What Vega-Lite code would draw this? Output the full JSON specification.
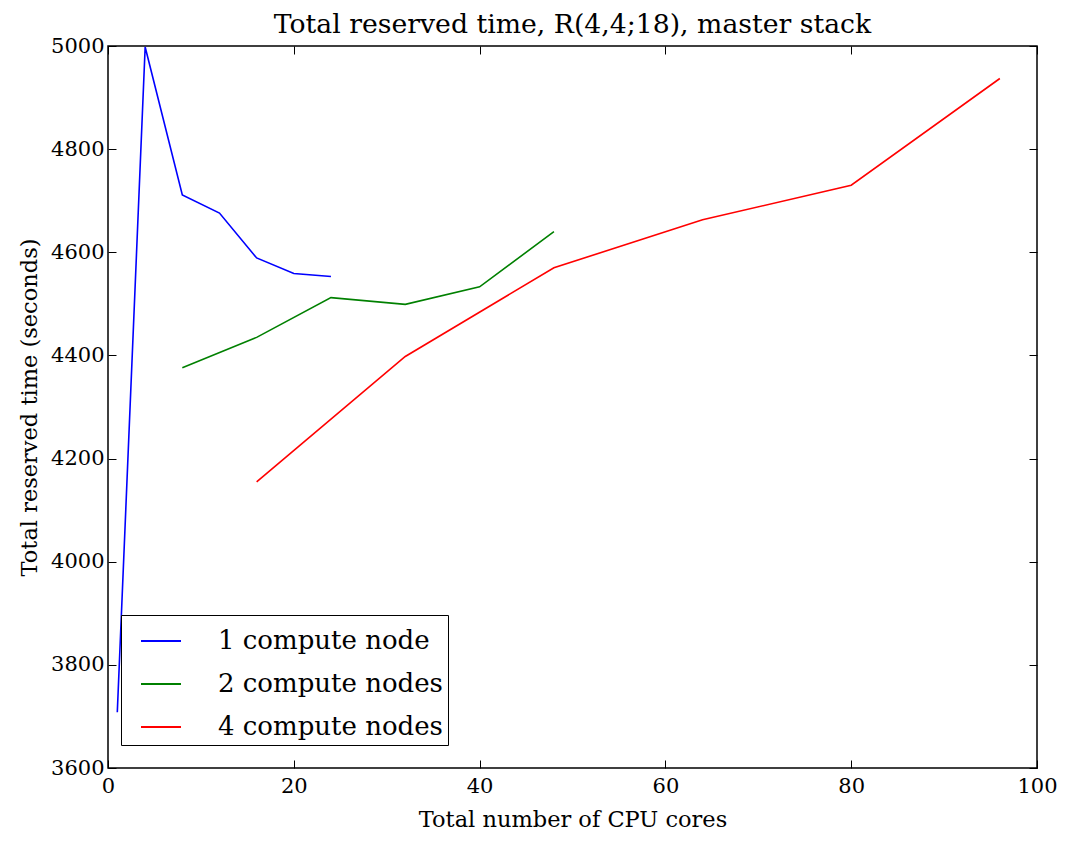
{
  "$schema": "https://vega.github.io/schema/vega-lite/v6.json",
  "width": 929,
  "height": 722,
  "autosize": {"type": "none"},
  "padding": {"left": 108, "top": 46, "right": 33, "bottom": 80},
  "background": "white",
  "title": {"text": "Total reserved time, R(4,4;18), master stack", "font": "DejaVu Serif", "fontSize": 26.7, "fontWeight": "normal", "color": "black", "offset": -4},
  "config": {
    "view": {"stroke": "black", "strokeWidth": 1.5},
    "axis": {"domain": false, "grid": false, "tickColor": "black", "tickSize": -8, "tickWidth": 1, "labelFlush": false, "labelFont": "DejaVu Serif", "labelFontSize": 21, "labelColor": "black", "titleFont": "DejaVu Serif", "titleFontSize": 22.5, "titleFontWeight": "normal", "titleColor": "black"}
  },
  "data": {"values": [
    {"cores": 1, "time": 3708, "series": "1 compute node"},
    {"cores": 4, "time": 4998, "series": "1 compute node"},
    {"cores": 8, "time": 4711, "series": "1 compute node"},
    {"cores": 12, "time": 4676, "series": "1 compute node"},
    {"cores": 16, "time": 4589, "series": "1 compute node"},
    {"cores": 20, "time": 4559, "series": "1 compute node"},
    {"cores": 24, "time": 4553, "series": "1 compute node"},
    {"cores": 8, "time": 4376, "series": "2 compute nodes"},
    {"cores": 16, "time": 4435, "series": "2 compute nodes"},
    {"cores": 24, "time": 4512, "series": "2 compute nodes"},
    {"cores": 32, "time": 4499, "series": "2 compute nodes"},
    {"cores": 40, "time": 4533, "series": "2 compute nodes"},
    {"cores": 48, "time": 4640, "series": "2 compute nodes"},
    {"cores": 16, "time": 4155, "series": "4 compute nodes"},
    {"cores": 32, "time": 4398, "series": "4 compute nodes"},
    {"cores": 48, "time": 4570, "series": "4 compute nodes"},
    {"cores": 64, "time": 4663, "series": "4 compute nodes"},
    {"cores": 80, "time": 4730, "series": "4 compute nodes"},
    {"cores": 96, "time": 4937, "series": "4 compute nodes"}
  ]},
  "layer": [
    {
      "mark": {"type": "line", "strokeWidth": 1.6, "clip": true},
      "encoding": {
        "x": {"field": "cores", "type": "quantitative", "scale": {"domain": [0, 100], "nice": false, "zero": false}, "axis": {"orient": "bottom", "values": [0, 20, 40, 60, 80, 100], "format": "d", "title": "Total number of CPU cores", "labelPadding": 15, "titlePadding": 12}},
        "y": {"field": "time", "type": "quantitative", "scale": {"domain": [3600, 5000], "nice": false, "zero": false}, "axis": {"orient": "left", "values": [3600, 3800, 4000, 4200, 4400, 4600, 4800, 5000], "format": "d", "title": "Total reserved time (seconds)", "labelPadding": 12, "titlePadding": 9}},
        "color": {"field": "series", "type": "nominal",
          "scale": {"domain": ["1 compute node", "2 compute nodes", "4 compute nodes"], "range": ["#0000ff", "#008000", "#ff0000"]},
          "legend": {"title": null, "orient": "none", "legendX": 13, "legendY": 569, "symbolType": "stroke", "symbolSize": 1600, "symbolStrokeWidth": 2, "labelFont": "DejaVu Serif", "labelFontSize": 26, "labelLimit": 500, "labelColor": "black", "labelOffset": 36, "symbolOffset": 14, "rowPadding": 9, "padding": 5, "strokeColor": "black", "fillColor": "white", "cornerRadius": 0}}
      }
    },
    {
      "mark": {"type": "line", "opacity": 0},
      "encoding": {
        "x": {"field": "cores", "type": "quantitative", "scale": {"domain": [0, 100], "nice": false, "zero": false}, "axis": {"orient": "top", "values": [0, 20, 40, 60, 80, 100], "labels": false, "title": null}},
        "y": {"field": "time", "type": "quantitative", "scale": {"domain": [3600, 5000], "nice": false, "zero": false}, "axis": {"orient": "right", "values": [3600, 3800, 4000, 4200, 4400, 4600, 4800, 5000], "labels": false, "title": null}},
        "detail": {"field": "series"}
      }
    }
  ],
  "resolve": {"axis": {"x": "independent", "y": "independent"}}
}
